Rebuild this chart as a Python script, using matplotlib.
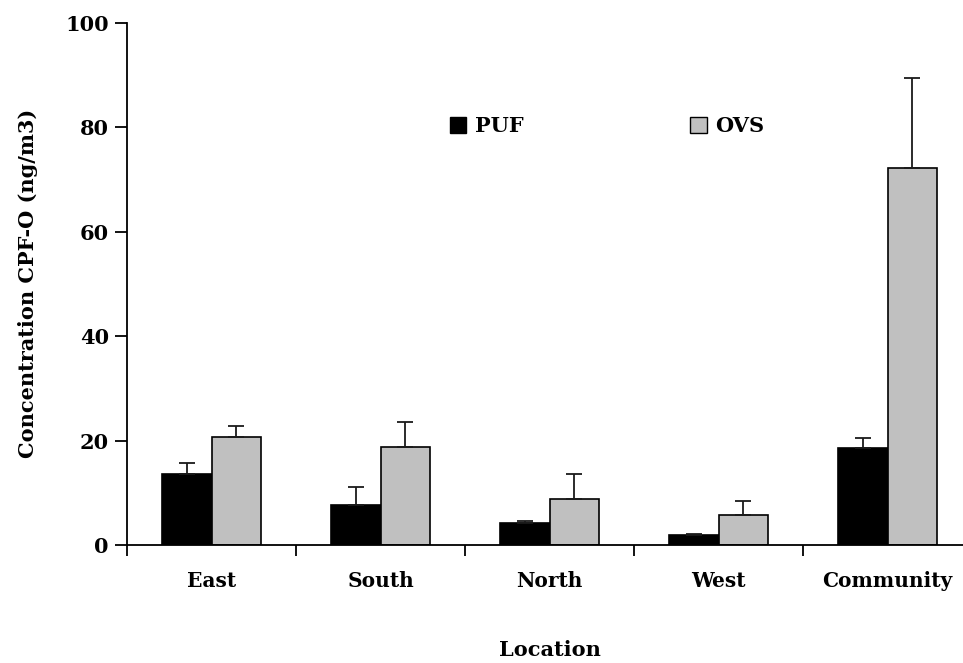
import numpy as np
import matplotlib
matplotlib.use("Agg")
import matplotlib.pyplot as plt
from matplotlib.patches import Patch
from matplotlib.ticker import FixedLocator

# Mean CPF-O concentrations (ng/m3) and upper error (SD) by sampling location
locations = ["East", "South", "North", "West", "Community"]
puf_mean = [13.6, 7.7, 4.2, 2.0, 18.6]
puf_err = [2.1, 3.4, 0.3, 0.1, 1.8]
ovs_mean = [20.7, 18.8, 8.8, 5.7, 72.1]
ovs_err = [2.1, 4.7, 4.7, 2.8, 17.3]

plt.rcParams['font.family'] = ['DejaVu Serif']
plt.rcParams['font.weight'] = 'bold'

fig = plt.figure(figsize=(9.63, 6.63), dpi=100)
ax = fig.add_axes([127 / 963, 1 - 545 / 663, 845 / 963, 522.3 / 663])

x = np.arange(len(locations))
w = 0.29
err_kw = dict(ecolor='#1a1a1a', elinewidth=1.3, capsize=5.5, capthick=1.3)

ax.bar(x - w / 2, puf_mean, w, color='black', edgecolor='black', linewidth=1.2,
       yerr=[np.zeros(len(puf_err)), puf_err], error_kw=err_kw, label='PUF')
ax.bar(x + w / 2, ovs_mean, w, color='#c0c0c0', edgecolor='black', linewidth=1.2,
       yerr=[np.zeros(len(ovs_err)), ovs_err], error_kw=err_kw, label='OVS')

ax.set_xlim(-0.5, len(locations) - 0.5)
ax.set_ylim(0, 100)
ax.set_yticks([0, 20, 40, 60, 80, 100])

# category separators as major ticks, names on minor ticks at the centres
ax.xaxis.set_major_locator(FixedLocator(np.arange(len(locations) + 1) - 0.5))
ax.xaxis.set_major_formatter(plt.NullFormatter())
ax.set_xticks(x, minor=True)
ax.set_xticklabels(locations, minor=True)
ax.tick_params(axis='x', which='minor', length=0, pad=19, labelsize=14.5)
ax.tick_params(axis='x', which='major', length=8, width=1.3, direction='out')
ax.tick_params(axis='y', length=9, width=1.3, direction='out', labelsize=15, pad=4)

for s in ['top', 'right']:
    ax.spines[s].set_visible(False)
for s in ['left', 'bottom']:
    ax.spines[s].set_linewidth(1.3)

ax.set_ylabel('Concentration CPF-O (ng/m3)', fontsize=15, fontweight='bold', labelpad=20)
ax.set_xlabel('Location', fontsize=15, fontweight='bold', labelpad=35)

handles = [Patch(facecolor='black', edgecolor='black'),
           Patch(facecolor='#c0c0c0', edgecolor='black')]
ax.legend(handles, ['PUF', 'OVS'], ncol=2, frameon=False, fontsize=15,
          loc='center', bbox_to_anchor=(0.568, 0.802), columnspacing=8.0,
          handlelength=0.8, handleheight=0.8, handletextpad=0.4)

fig.savefig('out.png', dpi=100)
